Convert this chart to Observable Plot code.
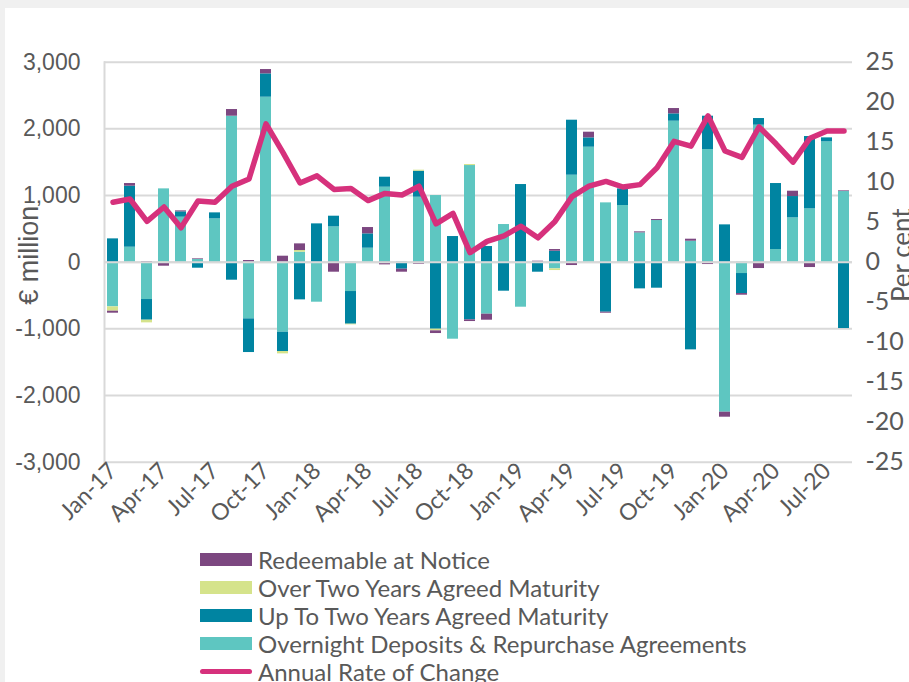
<!DOCTYPE html>
<html><head><meta charset="utf-8">
<script src="https://cdn.jsdelivr.net/npm/d3@7"></script>
<script src="https://cdn.jsdelivr.net/npm/@observablehq/plot@0.6"></script>
<style>
html,body{margin:0;padding:0;background:#f0f0f0;width:909px;height:682px;overflow:hidden;}
#panel{position:absolute;left:5px;top:8px;width:904px;height:674px;background:#fff;}
#chart{position:absolute;left:0;top:0;}
#legend{position:absolute;left:195px;top:537px;font-family:Lato;font-size:24px;color:#595959;}
.row{height:28px;display:flex;align-items:center;white-space:nowrap;}
.sw{width:52px;height:13px;margin-right:6px;flex:none;}
.ln{width:52px;height:5px;border-radius:3px;margin-right:6px;flex:none;}
</style></head><body>
<div id="panel"><div id="chart"></div><div id="legend"></div></div>
<script>
const months = ["Jan-17","Feb-17","Mar-17","Apr-17","May-17","Jun-17","Jul-17","Aug-17","Sep-17","Oct-17","Nov-17","Dec-17",
"Jan-18","Feb-18","Mar-18","Apr-18","May-18","Jun-18","Jul-18","Aug-18","Sep-18","Oct-18","Nov-18","Dec-18",
"Jan-19","Feb-19","Mar-19","Apr-19","May-19","Jun-19","Jul-19","Aug-19","Sep-19","Oct-19","Nov-19","Dec-19",
"Jan-20","Feb-20","Mar-20","Apr-20","May-20","Jun-20","Jul-20","Aug-20"];

const series = ["Overnight Deposits & Repurchase Agreements","Up To Two Years Agreed Maturity","Over Two Years Agreed Maturity","Redeemable at Notice"];
const colors = ["#5ec6c1","#0084a1","#d5e38b","#7c4780"];
const legendOrder = ["Redeemable at Notice","Over Two Years Agreed Maturity","Up To Two Years Agreed Maturity","Overnight Deposits & Repurchase Agreements"];
const lineName = "Annual Rate of Change";
const lineColor = "#d6317c";

const overnight = [-670,225,-560,1100,675,40,650,2190,-850,2475,-1050,150,
 -600,530,-440,210,1125,0,975,1000,-1155,1450,-780,565,
 -675,0,-100,1305,1725,890,850,440,625,2115,315,1690,
 -2250,-170,2055,190,665,800,1805,1060];
const upToTwo = [350,915,-310,0,80,-90,90,-270,-505,350,-290,-565,
 575,160,-490,215,150,-105,390,-1005,385,-865,235,-435,
 1165,-150,165,825,140,-750,250,-400,-390,110,-1315,500,
 560,-300,100,990,320,1085,60,-995];
const overTwo = [-65,0,-40,-15,0,0,0,0,0,0,-35,25,
 0,0,-10,0,0,0,15,-25,0,15,0,0,
 0,0,-25,0,0,0,0,0,0,0,0,0,
 0,0,0,0,0,0,0,0];
const redeemable = [-30,40,10,-45,15,10,0,100,25,65,90,100,
 0,-150,0,95,-40,-45,-30,-40,0,-25,-90,0,
 0,15,25,-50,85,-15,0,15,15,80,30,-35,
 -75,-25,-95,0,80,-80,0,10];
const annualRate = [7.5,7.9,5.1,6.9,4.3,7.65,7.5,9.5,10.4,17.3,13.7,9.9,
 10.8,9.1,9.2,7.7,8.6,8.4,9.5,4.8,6.1,1.2,2.6,3.3,
 4.5,3.05,5.1,8.2,9.5,10.1,9.4,9.7,11.8,15.1,14.5,18.3,
 13.9,13.1,16.9,14.8,12.5,15.5,16.4,16.4];

const leftTicks = [-3000,-2000,-1000,0,1000,2000,3000];
const rightTicks = [-25,-20,-15,-10,-5,0,5,10,15,20,25];

const seriesValues = [overnight, upToTwo, overTwo, redeemable];
const data = [];
series.forEach((s, si) => seriesValues[si].forEach((v, i) => data.push({month: months[i], series: s, value: v})));
const rateData = months.map((m, i) => ({month: m, rate: annualRate[i]}));

const K = 3000 / 25;
const fmt = v => (v < 0 ? "-" : "") + d3.format(",")(Math.abs(v));

const chart = Plot.plot({
  width: 904, height: 537,
  marginLeft: 99, marginRight: 57, marginTop: 53.7, marginBottom: 83.3,
  style: {fontFamily: "Lato", color: "#595959", background: "transparent", overflow: "visible"},
  x: {type: "band", domain: months, paddingInner: 0.35, paddingOuter: 0.175, axis: null},
  y: {domain: [-3000, 3000], axis: null},
  color: {domain: series, range: colors},
  marks: [
    Plot.gridY(leftTicks, {stroke: "#d9d9d9", strokeWidth: 2, strokeOpacity: 1}),
    Plot.frame({anchor: "left", stroke: "#d9d9d9", strokeWidth: 2}),
    Plot.barY(data, {x: "month", y: "value", fill: "series", order: series}),
    Plot.ruleY([0], {stroke: "#d9d9d9", strokeWidth: 2}),
    Plot.line(rateData, {x: "month", y: d => d.rate * K, stroke: lineColor, strokeWidth: 5.5, strokeLinejoin: "round", strokeLinecap: "round"}),
    Plot.axisX(months.filter((d, i) => i % 3 === 0), {tickSize: 0, tickPadding: 5, tickRotate: -45, fontSize: 23, fontFamily: "Lato", label: null}),
    Plot.axisY(leftTicks, {anchor: "left", tickSize: 0, tickPadding: 24, tickFormat: fmt, fontSize: 23, fontFamily: "Liberation Sans", label: null}),
    Plot.axisY(rightTicks.map(v => v * K), {anchor: "right", tickSize: 0, tickPadding: 13, tickFormat: v => fmt(Math.round(v / K)), fontSize: 25, fontFamily: "Lato", label: null}),
    Plot.text(["€ million"], {text: d => d, frameAnchor: "left", textAnchor: "middle", rotate: -90, dx: -75, dy: -7, fontSize: 27, fontFamily: "Liberation Sans"}),
    Plot.text(["Per cent"], {text: d => d, frameAnchor: "right", textAnchor: "middle", rotate: -90, dx: 50, dy: -7, fontSize: 26, fontFamily: "Lato"})
  ]
});
document.getElementById("chart").appendChild(chart);

const legend = document.getElementById("legend");
legendOrder.forEach(name => {
  const row = document.createElement("div"); row.className = "row";
  const sw = document.createElement("div"); sw.className = "sw"; sw.style.background = colors[series.indexOf(name)];
  const t = document.createElement("span"); t.textContent = name;
  row.appendChild(sw); row.appendChild(t); legend.appendChild(row);
});
{
  const row = document.createElement("div"); row.className = "row";
  const sw = document.createElement("div"); sw.className = "ln"; sw.style.background = lineColor;
  const t = document.createElement("span"); t.textContent = lineName;
  row.appendChild(sw); row.appendChild(t); legend.appendChild(row);
}
</script></body></html>
